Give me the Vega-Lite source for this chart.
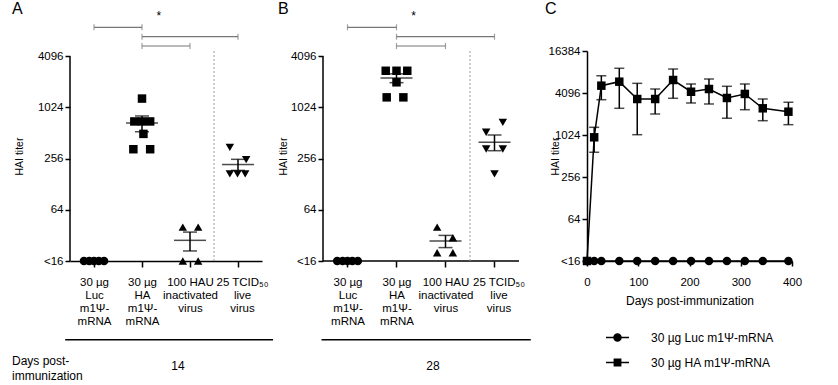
{
"$schema":"https://vega.github.io/schema/vega-lite/v6.json",
"padding":{"left":12,"top":1,"right":4,"bottom":2},
"bounds":"flush",
"spacing":61,
"config":{
 "font":"Liberation Sans",
 "view":{"stroke":null},
 "axis":{"grid":false,"domainColor":"black","domainWidth":1.5,"tickColor":"black","tickWidth":1.5,"tickSize":5,"labelColor":"black","labelFontSize":11.5,"labelFont":"Liberation Sans","titleFont":"Liberation Sans","titleFontSize":12,"titleFontWeight":"normal","titleColor":"black","labelFlush":false,"labelOverlap":false,"labelPadding":2},
 "legend":{"labelFont":"Liberation Sans","labelFontSize":12,"labelColor":"black"},
 "text":{"font":"Liberation Sans","fontSize":12,"color":"black"}
},
"datasets":{
 "ptsA":[
  {"g":"Luc","x":0.79,"y":16},{"g":"Luc","x":0.9,"y":16},{"g":"Luc","x":1.0,"y":16},{"g":"Luc","x":1.1,"y":16},{"g":"Luc","x":1.21,"y":16},
  {"g":"HA","x":2.0,"y":1300},{"g":"HA","x":1.84,"y":700},{"g":"HA","x":2.0,"y":700},{"g":"HA","x":2.17,"y":700},{"g":"HA","x":2.03,"y":500},{"g":"HA","x":1.82,"y":330},{"g":"HA","x":2.17,"y":330},
  {"g":"Inact","x":2.85,"y":40},{"g":"Inact","x":3.17,"y":40},{"g":"Inact","x":2.85,"y":16},{"g":"Inact","x":3.17,"y":16},
  {"g":"Live","x":3.83,"y":347},{"g":"Live","x":4.17,"y":249},{"g":"Live","x":3.83,"y":169},{"g":"Live","x":3.99,"y":169},{"g":"Live","x":4.15,"y":169}
 ],
 "sumA":[{"x":2,"mean":671,"lo":530,"hi":812},{"x":3,"mean":28,"lo":21,"hi":35},{"x":4,"mean":218,"lo":186,"hi":251}],
 "ptsB":[
  {"g":"Luc","x":0.79,"y":16},{"g":"Luc","x":0.9,"y":16},{"g":"Luc","x":1.0,"y":16},{"g":"Luc","x":1.1,"y":16},{"g":"Luc","x":1.21,"y":16},
  {"g":"HA","x":1.78,"y":2760},{"g":"HA","x":2.0,"y":2760},{"g":"HA","x":2.22,"y":2760},{"g":"HA","x":2.0,"y":2020},{"g":"HA","x":1.8,"y":1344},{"g":"HA","x":2.14,"y":1344},
  {"g":"Inact","x":2.83,"y":40},{"g":"Inact","x":3.15,"y":30},{"g":"Inact","x":2.83,"y":20},{"g":"Inact","x":3.15,"y":20},
  {"g":"Live","x":4.17,"y":683},{"g":"Live","x":3.83,"y":522},{"g":"Live","x":3.83,"y":332},{"g":"Live","x":4.17,"y":332},{"g":"Live","x":4.0,"y":169}
 ],
 "sumB":[{"x":2,"mean":2270,"lo":2000,"hi":2540},{"x":3,"mean":27.5,"lo":23,"hi":32},{"x":4,"mean":399,"lo":317,"hi":485}],
 "brk":[{"x":1,"x2":2,"y":8960},{"x":2,"x2":4,"y":6946},{"x":2,"x2":3,"y":5398}],
 "cts":[
  {"day":0,"group":"30 µg Luc m1Ψ-mRNA","v":16},{"day":14,"group":"30 µg Luc m1Ψ-mRNA","v":16},{"day":28,"group":"30 µg Luc m1Ψ-mRNA","v":16},{"day":63,"group":"30 µg Luc m1Ψ-mRNA","v":16},{"day":98,"group":"30 µg Luc m1Ψ-mRNA","v":16},{"day":133,"group":"30 µg Luc m1Ψ-mRNA","v":16},{"day":168,"group":"30 µg Luc m1Ψ-mRNA","v":16},{"day":203,"group":"30 µg Luc m1Ψ-mRNA","v":16},{"day":238,"group":"30 µg Luc m1Ψ-mRNA","v":16},{"day":273,"group":"30 µg Luc m1Ψ-mRNA","v":16},{"day":308,"group":"30 µg Luc m1Ψ-mRNA","v":16},{"day":343,"group":"30 µg Luc m1Ψ-mRNA","v":16},{"day":393,"group":"30 µg Luc m1Ψ-mRNA","v":16},
  {"day":0,"group":"30 µg HA m1Ψ-mRNA","v":16},{"day":14,"group":"30 µg HA m1Ψ-mRNA","v":949},{"day":28,"group":"30 µg HA m1Ψ-mRNA","v":5216},{"day":63,"group":"30 µg HA m1Ψ-mRNA","v":5950},{"day":98,"group":"30 µg HA m1Ψ-mRNA","v":3360},{"day":133,"group":"30 µg HA m1Ψ-mRNA","v":3360},{"day":168,"group":"30 µg HA m1Ψ-mRNA","v":6290},{"day":203,"group":"30 µg HA m1Ψ-mRNA","v":4270},{"day":238,"group":"30 µg HA m1Ψ-mRNA","v":4673},{"day":273,"group":"30 µg HA m1Ψ-mRNA","v":3475},{"day":308,"group":"30 µg HA m1Ψ-mRNA","v":3970},{"day":343,"group":"30 µg HA m1Ψ-mRNA","v":2472},{"day":393,"group":"30 µg HA m1Ψ-mRNA","v":2210}
 ],
 "cerr":[
  {"day":14,"lo":579,"hi":1320},{"day":28,"lo":3283,"hi":7235},{"day":63,"lo":2472,"hi":9260},{"day":98,"lo":1034,"hi":5635},{"day":133,"lo":2048,"hi":4673},{"day":168,"lo":3440,"hi":9040},{"day":203,"lo":2946,"hi":5514},{"day":238,"lo":2850,"hi":6500},{"day":273,"lo":1780,"hi":5110},{"day":308,"lo":2360,"hi":5514},{"day":343,"lo":1642,"hi":3360},{"day":393,"lo":1440,"hi":3016}
 ]
},
"hconcat":[
 {
  "width":192,"height":210,
  "layer":[
   {"data":{"values":[{"x":0.5,"y":16,"y2":4096}]},"mark":{"type":"rule","color":"black","strokeWidth":1.5},
    "encoding":{"x":{"field":"x","type":"quantitative","scale":{"domain":[0.5,4.5],"nice":false,"zero":false}},"y":{"field":"y","type":"quantitative","scale":{"type":"log","base":2,"domain":[16,4715],"nice":false}},"y2":{"field":"y2"}}},
   {"data":{"values":[{"x":3.5,"y":16,"y2":4715}]},"mark":{"type":"rule","color":"#9a9a9a","strokeWidth":1,"strokeDash":[2,2]},
    "encoding":{"x":{"field":"x","type":"quantitative","scale":{"domain":[0.5,4.5],"nice":false,"zero":false}},"y":{"field":"y","type":"quantitative","scale":{"type":"log","base":2,"domain":[16,4715],"nice":false}},"y2":{"field":"y2"}}},
   {"data":{"name":"brk"},"mark":{"type":"rule","color":"#777777","strokeWidth":1.2},
    "encoding":{"x":{"field":"x","type":"quantitative","scale":{"domain":[0.5,4.5],"nice":false,"zero":false}},"x2":{"field":"x2"},"y":{"field":"y","type":"quantitative","scale":{"type":"log","base":2,"domain":[16,4715],"nice":false}}}},
   {"data":{"name":"brk"},"transform":[{"fold":["x","x2"],"as":["k","cx"]}],"mark":{"type":"tick","orient":"vertical","size":6,"thickness":1.2,"color":"#777777"},
    "encoding":{"x":{"field":"cx","type":"quantitative","scale":{"domain":[0.5,4.5],"nice":false,"zero":false}},"y":{"field":"y","type":"quantitative","scale":{"type":"log","base":2,"domain":[16,4715],"nice":false}}}},
   {"data":{"values":[{"x":2.3,"y":10820,"t":"*"},{"x":-0.708,"y":12830,"t":"A"}]},"mark":{"type":"text","align":"left","baseline":"alphabetic"},
    "encoding":{"x":{"field":"x","type":"quantitative","scale":{"domain":[0.5,4.5],"nice":false,"zero":false}},"y":{"field":"y","type":"quantitative","scale":{"type":"log","base":2,"domain":[16,4715],"nice":false}},"text":{"field":"t"},
     "size":{"condition":{"test":"datum.t == 'A'","value":16},"value":12},"dx":{"condition":{"test":"datum.t == 'A'","value":0},"value":-3}}},
   {"data":{"values":[{"x":0.4,"x2":4.73,"y":1.9}]},"mark":{"type":"rule","color":"black","strokeWidth":1.5},
    "encoding":{"x":{"field":"x","type":"quantitative","scale":{"domain":[0.5,4.5],"nice":false,"zero":false}},"x2":{"field":"x2"},"y":{"field":"y","type":"quantitative","scale":{"type":"log","base":2,"domain":[16,4715],"nice":false}}}},
   {"data":{"values":[{"x":2.75,"y":0.94,"t":"14"}]},"mark":{"type":"text","fontSize":12,"align":"center","baseline":"middle"},
    "encoding":{"x":{"field":"x","type":"quantitative","scale":{"domain":[0.5,4.5],"nice":false,"zero":false}},"y":{"field":"y","type":"quantitative","scale":{"type":"log","base":2,"domain":[16,4715],"nice":false}},"text":{"field":"t"}}},
   {"data":{"values":[{"x":-0.708,"y":1.06,"t":"Days post-\nimmunization"}]},"mark":{"type":"text","fontSize":12,"align":"left","baseline":"middle","lineBreak":"\n","lineHeight":15},
    "encoding":{"x":{"field":"x","type":"quantitative","scale":{"domain":[0.5,4.5],"nice":false,"zero":false}},"y":{"field":"y","type":"quantitative","scale":{"type":"log","base":2,"domain":[16,4715],"nice":false}},"text":{"field":"t"}}},
   {"data":{"name":"sumA"},"mark":{"type":"rule","color":"black","strokeWidth":1.5},
    "encoding":{"x":{"field":"x","type":"quantitative","scale":{"domain":[0.5,4.5],"nice":false,"zero":false}},"y":{"field":"lo","type":"quantitative","scale":{"type":"log","base":2,"domain":[16,4715],"nice":false}},"y2":{"field":"hi"}}},
   {"data":{"name":"sumA"},"transform":[{"fold":["lo","hi"],"as":["k","c"]}],"mark":{"type":"tick","orient":"horizontal","size":14,"thickness":1.5,"color":"black"},
    "encoding":{"x":{"field":"x","type":"quantitative","scale":{"domain":[0.5,4.5],"nice":false,"zero":false}},"y":{"field":"c","type":"quantitative","scale":{"type":"log","base":2,"domain":[16,4715],"nice":false}}}},
   {"data":{"name":"sumA"},"mark":{"type":"tick","orient":"horizontal","size":32,"thickness":1.5,"color":"black"},
    "encoding":{"x":{"field":"x","type":"quantitative","scale":{"domain":[0.5,4.5],"nice":false,"zero":false}},"y":{"field":"mean","type":"quantitative","scale":{"type":"log","base":2,"domain":[16,4715],"nice":false}}}},
   {"data":{"name":"ptsA"},"mark":{"type":"point","filled":true,"opacity":1,"size":72,"color":"black"},
    "encoding":{
     "x":{"field":"x","type":"quantitative","scale":{"domain":[0.5,4.5],"nice":false,"zero":false},
      "axis":{"values":[1,2,3,4],"title":null,"tickSize":6,"labelPadding":9,"labelFontSize":11.5,"labelLineHeight":13.3,"labelBaseline":"top","labelAngle":0,
       "labelOffset":{"condition":{"test":"datum.value == 4","value":4},"value":0},
       "labelExpr":"datum.value == 1 ? ['30 µg','Luc','m1Ψ-','mRNA'] : datum.value == 2 ? ['30 µg','HA','m1Ψ-','mRNA'] : datum.value == 3 ? ['100 HAU','inactivated','virus'] : ['25 TCID₅₀','live','virus']"}},
     "y":{"field":"y","type":"quantitative","scale":{"type":"log","base":2,"domain":[16,4715],"nice":false},
      "axis":{"values":[16,64,256,1024,4096],"format":"d","labelExpr":"datum.value <= 16 ? '<16' : datum.label","title":"HAI titer","titleFontSize":10.5,"titlePadding":13,"domain":false}},
     "shape":{"field":"g","type":"nominal","scale":{"domain":["Luc","HA","Inact","Live"],"range":["circle","square","triangle-up","triangle-down"]},"legend":null}
    }}
  ]
 },
 {
  "width":203,"height":210,
  "layer":[
   {"data":{"values":[{"x":0.5,"y":16,"y2":4096}]},"mark":{"type":"rule","color":"black","strokeWidth":1.5},
    "encoding":{"x":{"field":"x","type":"quantitative","scale":{"domain":[0.5,4.643],"nice":false,"zero":false}},"y":{"field":"y","type":"quantitative","scale":{"type":"log","base":2,"domain":[16,4715],"nice":false}},"y2":{"field":"y2"}}},
   {"data":{"values":[{"x":0.5,"x2":4.5,"y":16}]},"mark":{"type":"rule","color":"black","strokeWidth":1.5},
    "encoding":{"x":{"field":"x","type":"quantitative","scale":{"domain":[0.5,4.643],"nice":false,"zero":false}},"x2":{"field":"x2"},"y":{"field":"y","type":"quantitative","scale":{"type":"log","base":2,"domain":[16,4715],"nice":false}}}},
   {"data":{"values":[{"x":3.5,"y":16,"y2":4715}]},"mark":{"type":"rule","color":"#9a9a9a","strokeWidth":1,"strokeDash":[2,2]},
    "encoding":{"x":{"field":"x","type":"quantitative","scale":{"domain":[0.5,4.643],"nice":false,"zero":false}},"y":{"field":"y","type":"quantitative","scale":{"type":"log","base":2,"domain":[16,4715],"nice":false}},"y2":{"field":"y2"}}},
   {"data":{"name":"brk"},"mark":{"type":"rule","color":"#777777","strokeWidth":1.2},
    "encoding":{"x":{"field":"x","type":"quantitative","scale":{"domain":[0.5,4.643],"nice":false,"zero":false}},"x2":{"field":"x2"},"y":{"field":"y","type":"quantitative","scale":{"type":"log","base":2,"domain":[16,4715],"nice":false}}}},
   {"data":{"name":"brk"},"transform":[{"fold":["x","x2"],"as":["k","cx"]}],"mark":{"type":"tick","orient":"vertical","size":6,"thickness":1.2,"color":"#777777"},
    "encoding":{"x":{"field":"cx","type":"quantitative","scale":{"domain":[0.5,4.643],"nice":false,"zero":false}},"y":{"field":"y","type":"quantitative","scale":{"type":"log","base":2,"domain":[16,4715],"nice":false}}}},
   {"data":{"values":[{"x":2.3,"y":10820,"t":"*"},{"x":-0.418,"y":12830,"t":"B"}]},"mark":{"type":"text","align":"left","baseline":"alphabetic"},
    "encoding":{"x":{"field":"x","type":"quantitative","scale":{"domain":[0.5,4.643],"nice":false,"zero":false}},"y":{"field":"y","type":"quantitative","scale":{"type":"log","base":2,"domain":[16,4715],"nice":false}},"text":{"field":"t"},
     "size":{"condition":{"test":"datum.t == 'B'","value":16},"value":12},"dx":{"condition":{"test":"datum.t == 'B'","value":0},"value":-3}}},
   {"data":{"values":[{"x":0.47,"x2":4.74,"y":1.9}]},"mark":{"type":"rule","color":"black","strokeWidth":1.5},
    "encoding":{"x":{"field":"x","type":"quantitative","scale":{"domain":[0.5,4.643],"nice":false,"zero":false}},"x2":{"field":"x2"},"y":{"field":"y","type":"quantitative","scale":{"type":"log","base":2,"domain":[16,4715],"nice":false}}}},
   {"data":{"values":[{"x":2.745,"y":0.94,"t":"28"}]},"mark":{"type":"text","fontSize":12,"align":"center","baseline":"middle"},
    "encoding":{"x":{"field":"x","type":"quantitative","scale":{"domain":[0.5,4.643],"nice":false,"zero":false}},"y":{"field":"y","type":"quantitative","scale":{"type":"log","base":2,"domain":[16,4715],"nice":false}},"text":{"field":"t"}}},
   {"data":{"name":"sumB"},"mark":{"type":"rule","color":"black","strokeWidth":1.5},
    "encoding":{"x":{"field":"x","type":"quantitative","scale":{"domain":[0.5,4.643],"nice":false,"zero":false}},"y":{"field":"lo","type":"quantitative","scale":{"type":"log","base":2,"domain":[16,4715],"nice":false}},"y2":{"field":"hi"}}},
   {"data":{"name":"sumB"},"transform":[{"fold":["lo","hi"],"as":["k","c"]}],"mark":{"type":"tick","orient":"horizontal","size":14,"thickness":1.5,"color":"black"},
    "encoding":{"x":{"field":"x","type":"quantitative","scale":{"domain":[0.5,4.643],"nice":false,"zero":false}},"y":{"field":"c","type":"quantitative","scale":{"type":"log","base":2,"domain":[16,4715],"nice":false}}}},
   {"data":{"name":"sumB"},"mark":{"type":"tick","orient":"horizontal","size":32,"thickness":1.5,"color":"black"},
    "encoding":{"x":{"field":"x","type":"quantitative","scale":{"domain":[0.5,4.643],"nice":false,"zero":false}},"y":{"field":"mean","type":"quantitative","scale":{"type":"log","base":2,"domain":[16,4715],"nice":false}}}},
   {"data":{"name":"ptsB"},"mark":{"type":"point","filled":true,"opacity":1,"size":72,"color":"black"},
    "encoding":{
     "x":{"field":"x","type":"quantitative","scale":{"domain":[0.5,4.643],"nice":false,"zero":false},
      "axis":{"values":[1,2,3,4],"title":null,"domain":false,"tickSize":6,"labelPadding":9,"labelFontSize":11.5,"labelLineHeight":13.3,"labelBaseline":"top","labelAngle":0,
       "labelOffset":{"condition":{"test":"datum.value == 4","value":4},"value":0},
       "labelExpr":"datum.value == 1 ? ['30 µg','Luc','m1Ψ-','mRNA'] : datum.value == 2 ? ['30 µg','HA','m1Ψ-','mRNA'] : datum.value == 3 ? ['100 HAU','inactivated','virus'] : ['25 TCID₅₀','live','virus']"}},
     "y":{"field":"y","type":"quantitative","scale":{"type":"log","base":2,"domain":[16,4715],"nice":false},
      "axis":{"values":[16,64,256,1024,4096],"format":"d","labelExpr":"datum.value <= 16 ? '<16' : datum.label","title":"HAI titer","titleFontSize":10.5,"titlePadding":2,"domain":false}},
     "shape":{"field":"g","type":"nominal","scale":{"domain":["Luc","HA","Inact","Live"],"range":["circle","square","triangle-up","triangle-down"]},"legend":null}
    }}
  ]
 },
 {
  "width":205,"height":210,
  "resolve":{"scale":{"shape":"independent"},"legend":{"shape":"independent"}},
  "layer":[
   {"data":{"values":[{"day":-82,"v":55500,"t":"C"}]},"mark":{"type":"text","fontSize":16,"align":"left","baseline":"alphabetic"},
    "encoding":{"x":{"field":"day","type":"quantitative","scale":{"domain":[0,400],"nice":false,"zero":false}},"y":{"field":"v","type":"quantitative","scale":{"type":"log","base":2,"domain":[16,16384],"nice":false}},"text":{"field":"t"}}},
   {"data":{"name":"cts"},"mark":{"type":"line","color":"black","strokeWidth":1.5},
    "encoding":{"x":{"field":"day","type":"quantitative","scale":{"domain":[0,400],"nice":false,"zero":false}},"y":{"field":"v","type":"quantitative","scale":{"type":"log","base":2,"domain":[16,16384],"nice":false}},"detail":{"field":"group"}}},
   {"data":{"name":"cerr"},"mark":{"type":"rule","color":"black","strokeWidth":1.5},
    "encoding":{"x":{"field":"day","type":"quantitative","scale":{"domain":[0,400],"nice":false,"zero":false}},"y":{"field":"lo","type":"quantitative","scale":{"type":"log","base":2,"domain":[16,16384],"nice":false}},"y2":{"field":"hi"}}},
   {"data":{"name":"cerr"},"transform":[{"fold":["lo","hi"],"as":["k","c"]}],"mark":{"type":"tick","orient":"horizontal","size":10,"thickness":1.5,"color":"black"},
    "encoding":{"x":{"field":"day","type":"quantitative","scale":{"domain":[0,400],"nice":false,"zero":false}},"y":{"field":"c","type":"quantitative","scale":{"type":"log","base":2,"domain":[16,16384],"nice":false}}}},
   {"data":{"name":"cts"},"mark":{"type":"point","filled":true,"opacity":1,"size":72,"color":"black"},
    "encoding":{
     "x":{"field":"day","type":"quantitative","scale":{"domain":[0,400],"nice":false,"zero":false},
      "axis":{"values":[0,100,200,300,400],"title":"Days post-immunization","labelPadding":10,"titlePadding":8,"labelFontSize":11.5}},
     "y":{"field":"v","type":"quantitative","scale":{"type":"log","base":2,"domain":[16,16384],"nice":false},
      "axis":{"values":[16,64,256,1024,4096,16384],"format":"d","labelExpr":"datum.value <= 16 ? '<16' : datum.label","title":"HAI titer","titleFontSize":10.5,"titlePadding":-12}},
     "shape":{"field":"group","type":"nominal","scale":{"domain":["30 µg Luc m1Ψ-mRNA","30 µg HA m1Ψ-mRNA"],"range":["circle","square"]},"legend":null}
    }},
   {"data":{"name":"cts"},"mark":{"type":"point","filled":true,"opacity":0,"size":72,"color":"black"},
    "encoding":{
     "x":{"field":"day","type":"quantitative","scale":{"domain":[0,400],"nice":false,"zero":false}},
     "y":{"field":"v","type":"quantitative","scale":{"type":"log","base":2,"domain":[16,16384],"nice":false}},
     "shape":{"field":"group","type":"nominal","scale":{"domain":["30 µg Luc m1Ψ-mRNA","30 µg HA m1Ψ-mRNA"],"range":["M-1,-0.065H1V0.065H-1Z M0.37,0A0.37,0.37,0,1,1,-0.37,0A0.37,0.37,0,1,1,0.37,0Z","M-1,-0.065H1V0.065H-1Z M-0.34,-0.34H0.34V0.34H-0.34Z"]},
      "legend":{"orient":"none","legendX":19,"legendY":275,"title":null,"symbolSize":529,"symbolFillColor":"black","symbolStrokeColor":"black","symbolStrokeWidth":0,"symbolOpacity":1,"labelFontSize":12,"labelOffset":22,"rowPadding":7,"padding":0,"labelLimit":0}}
    }}
  ]
 }
]
}
